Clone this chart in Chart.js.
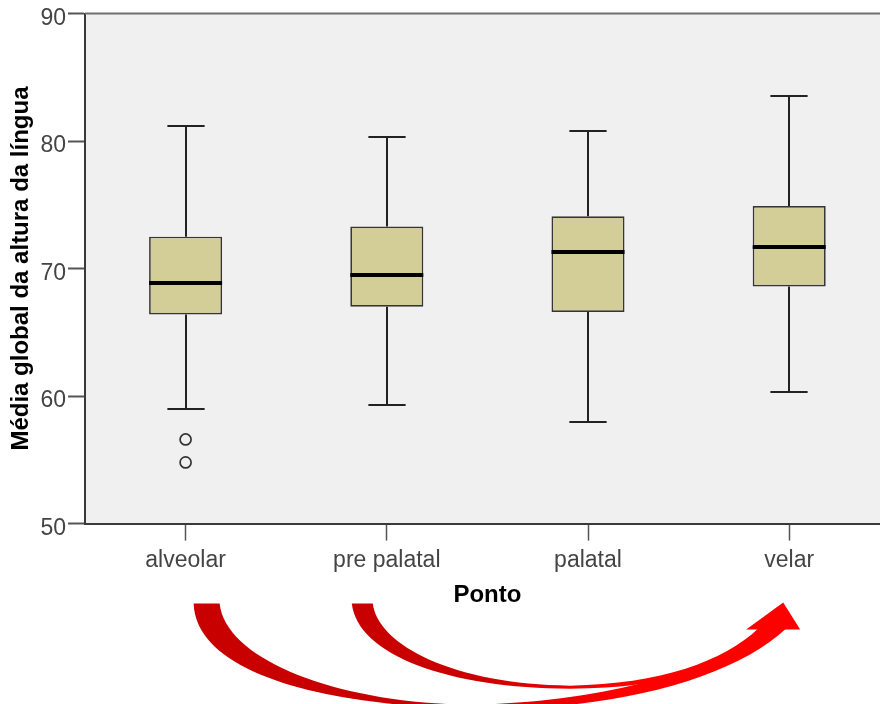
<!DOCTYPE html>
<html><head><meta charset="utf-8">
<script src="https://cdn.jsdelivr.net/npm/chart.js@4/dist/chart.umd.min.js"></script>
<style>
html,body{margin:0;padding:0;background:#fff;overflow:hidden;width:880px;height:704px;}
#wrap{position:absolute;left:0;top:0;width:897px;height:704px;}
canvas{display:block;}
</style></head><body>
<div id="wrap"><canvas id="c" width="897" height="704"></canvas></div>
<script>
// ---- data ----
const categories = ['alveolar', 'pre palatal', 'palatal', 'velar'];
const whiskerLow  = [59.0, 59.3, 58.0, 60.3];
const quartile1   = [66.4, 67.0, 66.6, 68.6];
const medians     = [68.9, 69.5, 71.3, 71.7];
const quartile3   = [72.5, 73.3, 74.1, 74.9];
const whiskerHigh = [81.2, 80.3, 80.8, 83.5];
const outlierCategory = ['alveolar', 'alveolar'];
const outlierValues   = [56.6, 54.8];
const yTicks = [50, 60, 70, 80, 90];
const yTitle = 'Média global da altura da língua';
const xTitle = 'Ponto';

const FAMILY = '"Liberation Sans", Arial, Helvetica, sans-serif';

// decorative annotation arrows (reference-pixel geometry, mapped through the scales)
const arrowOne = [['M',194,603],['C',197,675,330,705,470,708],['C',610,711,730,680,786,628],['L',764,628],['C',720,668,600,703,470,704],['C',340,703,226,660,220,603],['Z']];
const arrowTwo = [['M',352,603],['C',358,655,450,688,570,688],['C',670,688,740,665,780,628],['L',758,628],['C',725,660,660,684,570,685],['C',455,684,378,645,373,603],['Z']];
const arrowHead = [['M',746,629],['L',783,602],['L',800,629],['Z']];

const boxPlugin = {
  id: 'boxplotParts',
  beforeDraw(chart) {
    const {ctx, chartArea: a} = chart;
    ctx.save();
    ctx.fillStyle = '#f0f0f0';
    ctx.fillRect(a.left, a.top, a.right - a.left, a.bottom - a.top);
    ctx.restore();
  },
  beforeDatasetsDraw(chart) {
    const {ctx} = chart;
    const ys = chart.scales.y;
    const meta = chart.getDatasetMeta(0);
    ctx.save();
    ctx.strokeStyle = '#222';
    ctx.lineWidth = 2;
    meta.data.forEach((bar, i) => {
      const x = Math.round(bar.x);
      const capHalf = bar.width * 0.255;
      const yHi = Math.round(ys.getPixelForValue(whiskerHigh[i]));
      const yLo = Math.round(ys.getPixelForValue(whiskerLow[i]));
      const yQ1 = ys.getPixelForValue(quartile1[i]);
      const yQ3 = ys.getPixelForValue(quartile3[i]);
      ctx.beginPath();
      ctx.moveTo(x, yQ3); ctx.lineTo(x, yHi);
      ctx.moveTo(x, yQ1); ctx.lineTo(x, yLo);
      ctx.moveTo(x - capHalf, yHi); ctx.lineTo(x + capHalf, yHi);
      ctx.moveTo(x - capHalf, yLo); ctx.lineTo(x + capHalf, yLo);
      ctx.stroke();
    });
    ctx.restore();
  },
  afterDatasetsDraw(chart) {
    const {ctx} = chart;
    const ys = chart.scales.y;
    const meta = chart.getDatasetMeta(0);
    ctx.save();
    ctx.strokeStyle = '#000';
    ctx.lineWidth = 4;
    meta.data.forEach((bar, i) => {
      const y = Math.round(ys.getPixelForValue(medians[i]));
      ctx.beginPath();
      ctx.moveTo(bar.x - bar.width / 2, y);
      ctx.lineTo(bar.x + bar.width / 2, y);
      ctx.stroke();
    });
    ctx.restore();
  },
  afterDraw(chart) {
    const {ctx, chartArea: a} = chart;
    const xs = chart.scales.x, ys = chart.scales.y;
    ctx.save();
    // top frame line
    ctx.strokeStyle = '#707070';
    ctx.lineWidth = 2;
    ctx.beginPath();
    ctx.moveTo(a.left, a.top);
    ctx.lineTo(a.right, a.top);
    ctx.stroke();
    // annotation arrows
    const tx = x => xs.getPixelForValue((x - 186) / 201);
    const ty = y => ys.getPixelForValue(50 - (y - 523) / 12.75);
    const trace = cmds => {
      ctx.beginPath();
      cmds.forEach(c => {
        if (c[0] === 'M') ctx.moveTo(tx(c[1]), ty(c[2]));
        else if (c[0] === 'L') ctx.lineTo(tx(c[1]), ty(c[2]));
        else if (c[0] === 'C') ctx.bezierCurveTo(tx(c[1]), ty(c[2]), tx(c[3]), ty(c[4]), tx(c[5]), ty(c[6]));
        else ctx.closePath();
      });
      ctx.fill();
    };
    const g = ctx.createLinearGradient(tx(470), 0, tx(620), 0);
    g.addColorStop(0, '#c80000');
    g.addColorStop(1, '#ff0000');
    ctx.fillStyle = g;
    trace(arrowOne);
    trace(arrowTwo);
    ctx.fillStyle = '#ff0000';
    trace(arrowHead);
    ctx.restore();
  }
};

new Chart(document.getElementById('c'), {
  type: 'bar',
  data: {
    labels: categories,
    datasets: [
      {
        type: 'bar',
        data: categories.map((c, i) => [quartile1[i], quartile3[i]]),
        backgroundColor: '#d3ce98',
        borderColor: '#353535',
        borderWidth: 1.7,
        borderSkipped: false,
        barPercentage: 0.363,
        categoryPercentage: 1,
        grouped: false
      },
      {
        type: 'scatter',
        data: outlierValues.map((v, i) => ({x: outlierCategory[i], y: v})),
        pointStyle: 'circle',
        pointRadius: 5.5,
        pointBorderWidth: 1.7,
        borderColor: '#333',
        backgroundColor: 'rgba(0,0,0,0)',
        showLine: false
      }
    ]
  },
  options: {
    responsive: false,
    animation: false,
    devicePixelRatio: 1,
    layout: {padding: {left: 0, top: 13, right: 0, bottom: 94}},
    plugins: {legend: {display: false}, tooltip: {enabled: false}},
    scales: {
      x: {
        type: 'category',
        offset: true,
        grid: {display: true, drawOnChartArea: false, drawTicks: true, tickLength: 17, tickColor: '#555', tickWidth: 1.5, offset: false},
        border: {display: true, color: '#3a3a3a', width: 2},
        ticks: {color: '#444', font: {family: FAMILY, size: 23}, padding: 6, maxRotation: 0, autoSkip: false},
        title: {display: true, text: xTitle, color: '#000', font: {family: FAMILY, size: 24, weight: 'bold'}, padding: {top: 1, bottom: 0}}
      },
      y: {
        type: 'linear',
        min: 50, max: 90,
        afterFit(s) { s.width = 85; },
        afterBuildTicks(s) { s.ticks = yTicks.map(v => ({value: v})); },
        grid: {display: true, drawOnChartArea: false, drawTicks: true, tickLength: 17, tickColor: '#555', tickWidth: 2},
        border: {display: true, color: '#3a3a3a', width: 2},
        ticks: {color: '#444', font: {family: FAMILY, size: 23, lineHeight: 1}, padding: 2, labelOffset: 5},
        title: {display: true, text: yTitle, color: '#000', font: {family: FAMILY, size: 24, weight: 'bold'}, padding: {top: 7, bottom: 0}}
      }
    }
  },
  plugins: [boxPlugin]
});
</script>
</body></html>
